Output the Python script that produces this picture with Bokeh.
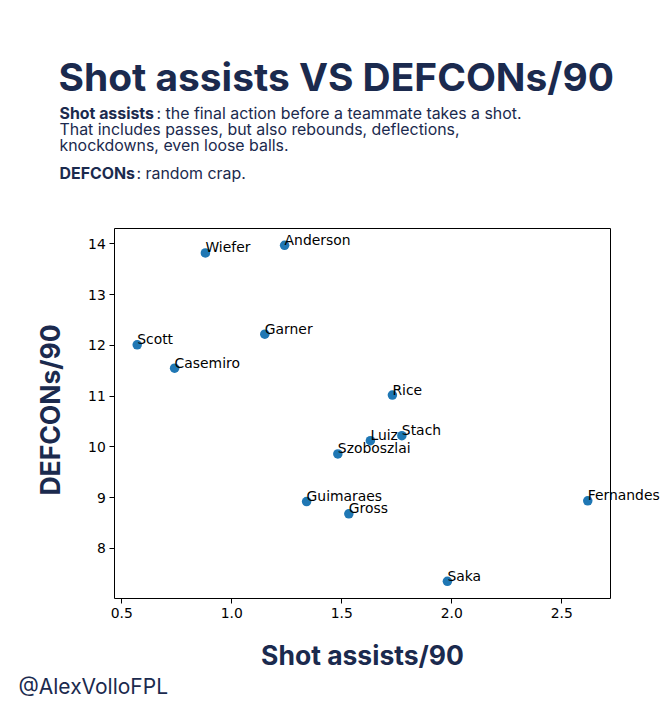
import math
from bokeh.plotting import figure
from bokeh.models import Label, LinearAxis, ColumnDataSource, Range1d, FixedTicker, NumeralTickFormatter
from bokeh.embed import file_html
from bokeh.resources import INLINE

players = ["Anderson", "Wiefer", "Garner", "Scott", "Casemiro", "Rice", "Stach", "Luiz", "Szoboszlai", "Guimaraes", "Gross", "Fernandes", "Saka"]
shot_assists = [1.24, 0.88, 1.15, 0.57, 0.74, 1.73, 1.773, 1.63, 1.482, 1.34, 1.532, 2.618, 1.98]
defcons = [13.97, 13.82, 12.22, 12.01, 11.55, 11.02, 10.22, 10.12, 9.86, 8.92, 8.68, 8.936, 7.35]
x_ticks = [0.5, 1.0, 1.5, 2.0, 2.5]
y_ticks = [8, 9, 10, 11, 12, 13, 14]
x_limits = (0.468, 2.7227)
y_limits = (7.005, 14.30)

NAVY = "#1b2a4e"
W, H = 661, 707

# The frame fills the page so that texts can overhang the drawn box, and the axes are pinned at the box.
p = figure(width=W, height=H, output_backend="svg", toolbar_location=None,
           x_range=Range1d(-0.0514, 2.9532), y_range=Range1d(4.863, 18.794),
           min_border=0, min_border_left=0, min_border_right=0, min_border_top=0, min_border_bottom=0)
p.background_fill_color = "white"
p.border_fill_color = "white"
p.grid.visible = False
p.outline_line_color = None

p.xaxis.fixed_location = y_limits[0]
p.yaxis.fixed_location = x_limits[0]
p.xaxis.bounds = x_limits
p.yaxis.bounds = y_limits

for ax, ticks in ((p.xaxis[0], x_ticks), (p.yaxis[0], y_ticks)):
    ax.ticker = FixedTicker(ticks=ticks)
    ax.minor_tick_line_color = None
    ax.major_tick_in = 0
    ax.major_tick_out = 5
    ax.major_tick_line_color = "black"
    ax.axis_line_color = "black"
    ax.major_label_text_font = "DejaVu Sans"
    ax.major_label_text_font_size = "13.9px"
    ax.major_label_text_color = "black"
    ax.major_label_standoff = 4
    ax.axis_label_text_font = "Inter"
    ax.axis_label_text_font_style = "bold"
    ax.axis_label_text_font_size = "26.5px"
    ax.axis_label_text_color = NAVY
p.xaxis[0].formatter = NumeralTickFormatter(format="0.0")
p.yaxis[0].major_label_orientation = "horizontal"
p.xaxis.axis_label = "Shot assists/90"
p.xaxis[0].axis_label_standoff = 18

top = LinearAxis(fixed_location=y_limits[1], bounds=x_limits, ticker=FixedTicker(ticks=[]),
                 axis_line_color="black", major_label_text_font_size="0px",
                 major_tick_line_color=None, minor_tick_line_color=None)
right = LinearAxis(fixed_location=x_limits[1], bounds=y_limits, ticker=FixedTicker(ticks=[]),
                   axis_line_color="black", major_label_text_font_size="0px",
                   major_tick_line_color=None, minor_tick_line_color=None)
p.add_layout(top, "above")
p.add_layout(right, "right")

source = ColumnDataSource(dict(x=shot_assists, y=defcons))
p.scatter("x", "y", source=source, size=9.5, fill_color="#1f77b4", line_color=None)

for xv, yv, name in zip(shot_assists, defcons, players):
    p.add_layout(Label(x=xv, y=yv, text=name, x_offset=0, y_offset=-2.5,
                       text_font="DejaVu Sans", text_font_size="13.9px",
                       text_color="black", text_baseline="bottom", text_align="left"))

def put(text, x, y, size, style="normal", color=NAVY, **kw):
    # x, y are page pixels of the text's left end and baseline; screen y counts up from the bottom
    opts = dict(text_baseline="bottom", text_align="left")
    opts.update(kw)
    p.add_layout(Label(x=x, y=H - y - 4, x_units="screen", y_units="screen", text=text,
                       text_font="Inter", text_font_size=f"{size}px", text_font_style=style,
                       text_color=color, **opts))

put("Shot assists VS DEFCONs/90", 58, 95.5, 38.9, "bold")
put("Shot assists", 59, 118, 15.9, "bold")
put(": the final action before a teammate takes a shot.", 156, 118, 15.9)
put("That includes passes, but also rebounds, deflections,", 59, 134, 15.9)
put("knockdowns, even loose balls.", 59, 150, 15.9)
put("DEFCONs", 59, 178, 15.9, "bold")
put(": random crap.", 136, 178, 15.9)
put("@AlexVolloFPL", 18, 694, 21)
put("DEFCONs/90", 65, 405.5, 26.5, "bold", angle=math.pi / 2, text_align="center")

open("out.html", "w").write(file_html(p, INLINE))
